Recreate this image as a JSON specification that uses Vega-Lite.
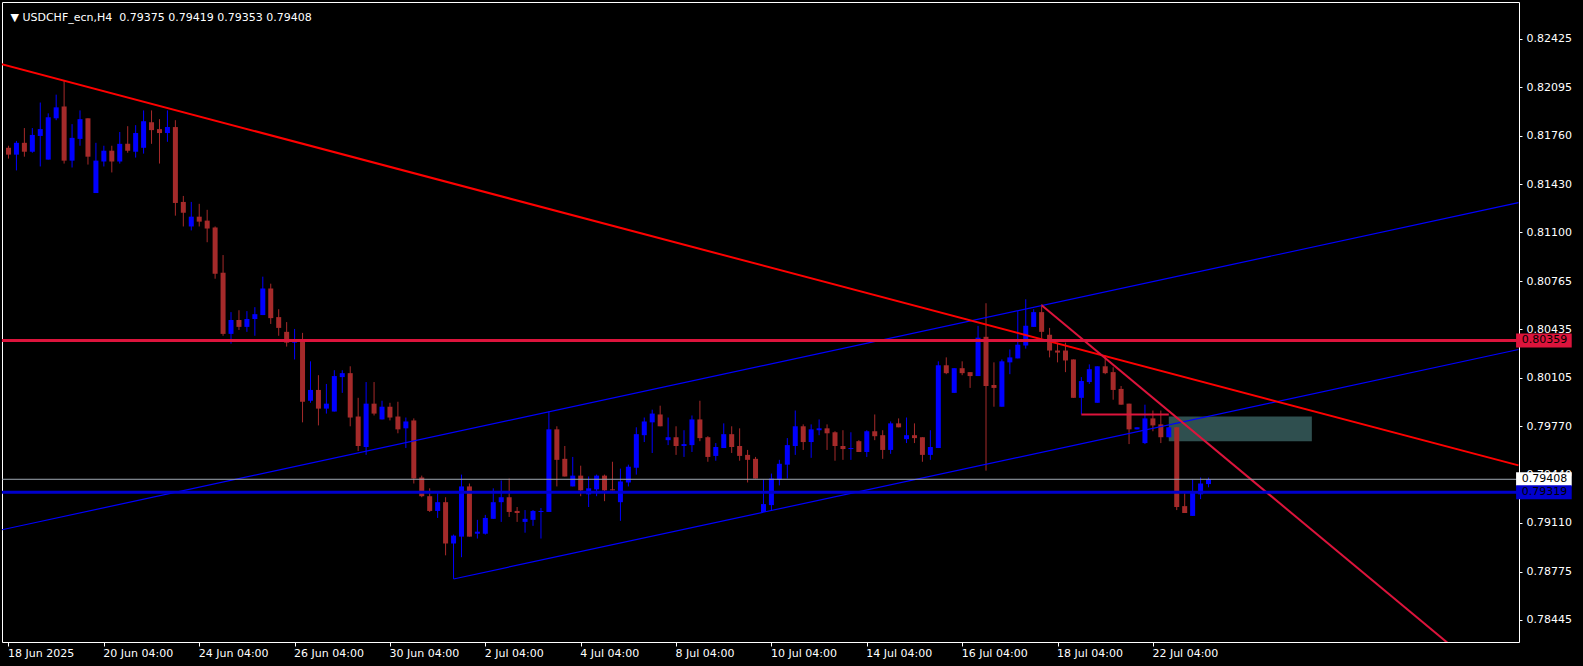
{
"$schema": "https://vega.github.io/schema/vega-lite/v6.json",
"width": 1517, "height": 640,
"autosize": {"type": "none"},
"padding": {"left": 2, "top": 2, "right": 64, "bottom": 24},
"background": "#000000",
"config": {"view": {"stroke": "#FFFFFF", "strokeWidth": 1, "fill": "#000000"}, "font": "DejaVu Sans"},
"datasets": {
"header": [
{"label": "▼ USDCHF_ecn,H4\u00a0 0.79375 0.79419 0.79353 0.79408"}
],
"candles": [
{"k":0,"o":0.81679,"h":0.81693,"l":0.81605,"c":0.81632},
{"k":1,"o":0.81632,"h":0.81726,"l":0.81524,"c":0.81713},
{"k":2,"o":0.81713,"h":0.81814,"l":0.81618,"c":0.81652},
{"k":3,"o":0.81652,"h":0.81814,"l":0.81645,"c":0.81767},
{"k":4,"o":0.81760,"h":0.81989,"l":0.81551,"c":0.81807},
{"k":5,"o":0.81598,"h":0.81915,"l":0.81598,"c":0.81888},
{"k":6,"o":0.81881,"h":0.82043,"l":0.81868,"c":0.81956},
{"k":7,"o":0.81962,"h":0.82138,"l":0.81571,"c":0.81591},
{"k":8,"o":0.81591,"h":0.81841,"l":0.81544,"c":0.81747},
{"k":9,"o":0.81740,"h":0.81935,"l":0.81693,"c":0.81875},
{"k":10,"o":0.81881,"h":0.81881,"l":0.81564,"c":0.81618},
{"k":11,"o":0.81369,"h":0.81713,"l":0.81369,"c":0.81591},
{"k":12,"o":0.81585,"h":0.81693,"l":0.81551,"c":0.81659},
{"k":13,"o":0.81659,"h":0.81693,"l":0.81510,"c":0.81585},
{"k":14,"o":0.81585,"h":0.81787,"l":0.81571,"c":0.81706},
{"k":15,"o":0.81706,"h":0.81827,"l":0.81645,"c":0.81659},
{"k":16,"o":0.81652,"h":0.81834,"l":0.81612,"c":0.81780},
{"k":17,"o":0.81679,"h":0.81935,"l":0.81639,"c":0.81861},
{"k":18,"o":0.81854,"h":0.81935,"l":0.81706,"c":0.81800},
{"k":19,"o":0.81807,"h":0.81875,"l":0.81571,"c":0.81780},
{"k":20,"o":0.81780,"h":0.81935,"l":0.81720,"c":0.81821},
{"k":21,"o":0.81821,"h":0.81868,"l":0.81214,"c":0.81301},
{"k":22,"o":0.81308,"h":0.81349,"l":0.81140,"c":0.81234},
{"k":23,"o":0.81140,"h":0.81308,"l":0.81113,"c":0.81207},
{"k":24,"o":0.81207,"h":0.81295,"l":0.81140,"c":0.81173},
{"k":25,"o":0.81180,"h":0.81254,"l":0.81032,"c":0.81126},
{"k":26,"o":0.81133,"h":0.81140,"l":0.80782,"c":0.80816},
{"k":27,"o":0.80823,"h":0.80944,"l":0.80391,"c":0.80404},
{"k":28,"o":0.80404,"h":0.80553,"l":0.80337,"c":0.80499},
{"k":29,"o":0.80499,"h":0.80566,"l":0.80431,"c":0.80452},
{"k":30,"o":0.80452,"h":0.80560,"l":0.80418,"c":0.80506},
{"k":31,"o":0.80506,"h":0.80587,"l":0.80391,"c":0.80539},
{"k":32,"o":0.80533,"h":0.80796,"l":0.80533,"c":0.80715},
{"k":33,"o":0.80715,"h":0.80748,"l":0.80472,"c":0.80512},
{"k":34,"o":0.80519,"h":0.80573,"l":0.80391,"c":0.80445},
{"k":35,"o":0.80418,"h":0.80485,"l":0.80317,"c":0.80344},
{"k":36,"o":0.80344,"h":0.80438,"l":0.80229,"c":0.80364},
{"k":37,"o":0.80357,"h":0.80411,"l":0.79798,"c":0.79939},
{"k":38,"o":0.79946,"h":0.80216,"l":0.79932,"c":0.80020},
{"k":39,"o":0.80020,"h":0.80121,"l":0.79777,"c":0.79892},
{"k":40,"o":0.79892,"h":0.80061,"l":0.79858,"c":0.79926},
{"k":41,"o":0.79872,"h":0.80155,"l":0.79872,"c":0.80115},
{"k":42,"o":0.80108,"h":0.80155,"l":0.80000,"c":0.80135},
{"k":43,"o":0.80135,"h":0.80182,"l":0.79771,"c":0.79831},
{"k":44,"o":0.79838,"h":0.79966,"l":0.79602,"c":0.79636},
{"k":45,"o":0.79629,"h":0.80074,"l":0.79575,"c":0.79926},
{"k":46,"o":0.79926,"h":0.80074,"l":0.79845,"c":0.79858},
{"k":47,"o":0.79818,"h":0.79946,"l":0.79818,"c":0.79905},
{"k":48,"o":0.79905,"h":0.79932,"l":0.79811,"c":0.79831},
{"k":49,"o":0.79838,"h":0.79939,"l":0.79723,"c":0.79750},
{"k":50,"o":0.79757,"h":0.79831,"l":0.79622,"c":0.79804},
{"k":51,"o":0.79811,"h":0.79825,"l":0.79379,"c":0.79413},
{"k":52,"o":0.79420,"h":0.79433,"l":0.79285,"c":0.79292},
{"k":53,"o":0.79292,"h":0.79346,"l":0.79184,"c":0.79191},
{"k":54,"o":0.79191,"h":0.79319,"l":0.79143,"c":0.79251},
{"k":55,"o":0.79251,"h":0.79285,"l":0.78887,"c":0.78968},
{"k":56,"o":0.78968,"h":0.79029,"l":0.78725,"c":0.79022},
{"k":57,"o":0.79015,"h":0.79440,"l":0.78874,"c":0.79359},
{"k":58,"o":0.79359,"h":0.79379,"l":0.79015,"c":0.79015},
{"k":59,"o":0.79035,"h":0.79130,"l":0.79002,"c":0.79049},
{"k":60,"o":0.79035,"h":0.79164,"l":0.79029,"c":0.79143},
{"k":61,"o":0.79137,"h":0.79346,"l":0.79137,"c":0.79251},
{"k":62,"o":0.79251,"h":0.79400,"l":0.79116,"c":0.79285},
{"k":63,"o":0.79285,"h":0.79413,"l":0.79150,"c":0.79184},
{"k":64,"o":0.79191,"h":0.79218,"l":0.79116,"c":0.79177},
{"k":65,"o":0.79116,"h":0.79197,"l":0.79042,"c":0.79137},
{"k":66,"o":0.79130,"h":0.79197,"l":0.79089,"c":0.79191},
{"k":67,"o":0.79184,"h":0.79211,"l":0.79002,"c":0.79191},
{"k":68,"o":0.79184,"h":0.79872,"l":0.79184,"c":0.79750},
{"k":69,"o":0.79750,"h":0.79771,"l":0.79359,"c":0.79541},
{"k":70,"o":0.79548,"h":0.79636,"l":0.79427,"c":0.79427},
{"k":71,"o":0.79359,"h":0.79561,"l":0.79359,"c":0.79433},
{"k":72,"o":0.79433,"h":0.79501,"l":0.79292,"c":0.79332},
{"k":73,"o":0.79305,"h":0.79427,"l":0.79218,"c":0.79346},
{"k":74,"o":0.79339,"h":0.79440,"l":0.79292,"c":0.79433},
{"k":75,"o":0.79433,"h":0.79440,"l":0.79258,"c":0.79332},
{"k":76,"o":0.79339,"h":0.79528,"l":0.79332,"c":0.79332},
{"k":77,"o":0.79251,"h":0.79481,"l":0.79123,"c":0.79393},
{"k":78,"o":0.79386,"h":0.79508,"l":0.79359,"c":0.79494},
{"k":79,"o":0.79487,"h":0.79764,"l":0.79440,"c":0.79717},
{"k":80,"o":0.79710,"h":0.79831,"l":0.79663,"c":0.79804},
{"k":81,"o":0.79798,"h":0.79885,"l":0.79588,"c":0.79858},
{"k":82,"o":0.79852,"h":0.79912,"l":0.79771,"c":0.79771},
{"k":83,"o":0.79676,"h":0.79831,"l":0.79642,"c":0.79696},
{"k":84,"o":0.79696,"h":0.79771,"l":0.79575,"c":0.79636},
{"k":85,"o":0.79636,"h":0.79744,"l":0.79561,"c":0.79649},
{"k":86,"o":0.79642,"h":0.79845,"l":0.79595,"c":0.79818},
{"k":87,"o":0.79818,"h":0.79946,"l":0.79669,"c":0.79690},
{"k":88,"o":0.79696,"h":0.79703,"l":0.79528,"c":0.79561},
{"k":89,"o":0.79568,"h":0.79656,"l":0.79535,"c":0.79629},
{"k":90,"o":0.79622,"h":0.79791,"l":0.79622,"c":0.79717},
{"k":91,"o":0.79717,"h":0.79771,"l":0.79588,"c":0.79629},
{"k":92,"o":0.79636,"h":0.79757,"l":0.79535,"c":0.79568},
{"k":93,"o":0.79575,"h":0.79609,"l":0.79386,"c":0.79541},
{"k":94,"o":0.79548,"h":0.79561,"l":0.79413,"c":0.79413},
{"k":95,"o":0.79184,"h":0.79406,"l":0.79184,"c":0.79238},
{"k":96,"o":0.79231,"h":0.79447,"l":0.79197,"c":0.79413},
{"k":97,"o":0.79406,"h":0.79541,"l":0.79366,"c":0.79514},
{"k":98,"o":0.79508,"h":0.79690,"l":0.79413,"c":0.79642},
{"k":99,"o":0.79636,"h":0.79879,"l":0.79575,"c":0.79771},
{"k":100,"o":0.79771,"h":0.79784,"l":0.79609,"c":0.79663},
{"k":101,"o":0.79663,"h":0.79784,"l":0.79555,"c":0.79750},
{"k":102,"o":0.79744,"h":0.79818,"l":0.79710,"c":0.79757},
{"k":103,"o":0.79757,"h":0.79784,"l":0.79609,"c":0.79723},
{"k":104,"o":0.79730,"h":0.79737,"l":0.79535,"c":0.79636},
{"k":105,"o":0.79636,"h":0.79744,"l":0.79541,"c":0.79615},
{"k":106,"o":0.79615,"h":0.79730,"l":0.79541,"c":0.79622},
{"k":107,"o":0.79669,"h":0.79676,"l":0.79595,"c":0.79595},
{"k":108,"o":0.79595,"h":0.79744,"l":0.79561,"c":0.79737},
{"k":109,"o":0.79737,"h":0.79852,"l":0.79676,"c":0.79703},
{"k":110,"o":0.79710,"h":0.79744,"l":0.79548,"c":0.79609},
{"k":111,"o":0.79609,"h":0.79804,"l":0.79582,"c":0.79791},
{"k":112,"o":0.79791,"h":0.79825,"l":0.79764,"c":0.79764},
{"k":113,"o":0.79683,"h":0.79831,"l":0.79656,"c":0.79710},
{"k":114,"o":0.79710,"h":0.79791,"l":0.79656,"c":0.79690},
{"k":115,"o":0.79696,"h":0.79696,"l":0.79528,"c":0.79575},
{"k":116,"o":0.79575,"h":0.79744,"l":0.79541,"c":0.79629},
{"k":117,"o":0.79622,"h":0.80216,"l":0.79622,"c":0.80189},
{"k":118,"o":0.80189,"h":0.80243,"l":0.80128,"c":0.80135},
{"k":119,"o":0.80000,"h":0.80169,"l":0.80000,"c":0.80169},
{"k":120,"o":0.80169,"h":0.80216,"l":0.80121,"c":0.80135},
{"k":121,"o":0.80142,"h":0.80142,"l":0.80034,"c":0.80115},
{"k":122,"o":0.80115,"h":0.80459,"l":0.80115,"c":0.80378},
{"k":123,"o":0.80384,"h":0.80614,"l":0.79467,"c":0.80047},
{"k":124,"o":0.80054,"h":0.80209,"l":0.79905,"c":0.80034},
{"k":125,"o":0.79905,"h":0.80229,"l":0.79905,"c":0.80216},
{"k":126,"o":0.80209,"h":0.80297,"l":0.80128,"c":0.80243},
{"k":127,"o":0.80236,"h":0.80560,"l":0.80236,"c":0.80330},
{"k":128,"o":0.80324,"h":0.80641,"l":0.80303,"c":0.80459},
{"k":129,"o":0.80452,"h":0.80573,"l":0.80452,"c":0.80553},
{"k":130,"o":0.80553,"h":0.80607,"l":0.80371,"c":0.80418},
{"k":131,"o":0.80398,"h":0.80445,"l":0.80243,"c":0.80290},
{"k":132,"o":0.80290,"h":0.80344,"l":0.80209,"c":0.80276},
{"k":133,"o":0.80290,"h":0.80344,"l":0.80142,"c":0.80222},
{"k":134,"o":0.80229,"h":0.80229,"l":0.79966,"c":0.79966},
{"k":135,"o":0.79966,"h":0.80108,"l":0.79852,"c":0.80081},
{"k":136,"o":0.80074,"h":0.80195,"l":0.80061,"c":0.80162},
{"k":137,"o":0.79932,"h":0.80182,"l":0.79932,"c":0.80182},
{"k":138,"o":0.80182,"h":0.80256,"l":0.80128,"c":0.80135},
{"k":139,"o":0.80142,"h":0.80175,"l":0.79953,"c":0.80020},
{"k":140,"o":0.80027,"h":0.80047,"l":0.79919,"c":0.79919},
{"k":141,"o":0.79926,"h":0.79926,"l":0.79649,"c":0.79750},
{"k":142,"o":0.79750,"h":0.79764,"l":0.79750,"c":0.79764},
{"k":143,"o":0.79656,"h":0.79919,"l":0.79649,"c":0.79825},
{"k":144,"o":0.79825,"h":0.79879,"l":0.79737,"c":0.79777},
{"k":145,"o":0.79784,"h":0.79879,"l":0.79656,"c":0.79696},
{"k":146,"o":0.79696,"h":0.79764,"l":0.79696,"c":0.79764},
{"k":147,"o":0.79764,"h":0.79764,"l":0.79197,"c":0.79218},
{"k":148,"o":0.79224,"h":0.79312,"l":0.79177,"c":0.79177},
{"k":149,"o":0.79157,"h":0.79406,"l":0.79157,"c":0.79319},
{"k":150,"o":0.79305,"h":0.79420,"l":0.79272,"c":0.79379},
{"k":151,"o":0.79375,"h":0.79419,"l":0.79353,"c":0.79408}
],
"levels": [
{"id":"res","p":0.80359},
{"id":"bid","p":0.79408},
{"id":"sup","p":0.79319}
],
"lines": [
{"id":"ch_up","k":-1,"p":0.79060},
{"id":"ch_up","k":190,"p":0.81303},
{"id":"ch_low","k":56,"p":0.78725},
{"id":"ch_low","k":190,"p":0.80297},
{"id":"red1","k":-1,"p":0.82254},
{"id":"red1","k":190,"p":0.79503},
{"id":"red2","k":130,"p":0.80600},
{"id":"red2","k":185,"p":0.78110},
{"id":"seg","k":135,"p":0.79852},
{"id":"seg","k":146,"p":0.79852}
],
"zones": [
{"k0":146,"k1":164,"p0":0.79669,"p1":0.79838}
]
},
"layer": [
{
"data": {"name": "zones"},
"mark": {"type": "rect", "color": "#2F4F4F"},
"encoding": {
"x": {"field": "k0", "type": "quantitative", "scale": {"domain": [-0.1875, 189.4375], "nice": false, "zero": false},
"axis": {"values": [0,12,24,36,48,60,72,84,96,108,120,132,144], "labelExpr": "['18 Jun 2025','20 Jun 04:00','24 Jun 04:00','26 Jun 04:00','30 Jun 04:00','2 Jul 04:00','4 Jul 04:00','8 Jul 04:00','10 Jul 04:00','14 Jul 04:00','16 Jul 04:00','18 Jul 04:00','22 Jul 04:00'][round(datum.value/12)]", "title": null, "grid": false, "domain": false, "ticks": true, "tickSize": 4, "tickColor": "#FFFFFF", "tickWidth": 1, "labelAlign": "left", "labelBaseline": "top", "labelPadding": 1, "labelOffset": -1, "labelColor": "#FFFFFF", "labelFont": "DejaVu Sans", "labelFontSize": 11, "labelOverlap": false, "labelFlush": false, "labelBound": false}},
"x2": {"field": "k1"},
"y": {"field": "p0", "type": "quantitative", "scale": {"domain": [0.783274, 0.826435], "nice": false, "zero": false},
"axis": {"orient": "right", "values": [0.82425,0.82095,0.81760,0.81430,0.81100,0.80765,0.80435,0.80105,0.79770,0.79440,0.79110,0.78775,0.78445], "format": ".5f", "title": null, "grid": false, "domain": false, "ticks": true, "tickSize": 3, "tickColor": "#FFFFFF", "tickWidth": 1, "labelPadding": 4, "labelBaseline": "middle", "labelColor": "#FFFFFF", "labelFont": "DejaVu Sans", "labelFontSize": 11, "labelOverlap": false, "labelFlush": false, "labelBound": false}},
"y2": {"field": "p1"}
}
},
{
"data": {"name": "candles"},
"mark": {"type": "rule", "strokeWidth": 1},
"encoding": {
"x": {"field": "k", "type": "quantitative"},
"y": {"field": "l", "type": "quantitative"},
"y2": {"field": "h"},
"color": {"condition": {"test": "datum.c >= datum.o", "value": "#0000FF"}, "value": "#A52A2A"}
}
},
{
"data": {"name": "candles"},
"mark": {"type": "bar", "size": 5, "orient": "vertical"},
"encoding": {
"x": {"field": "k", "type": "quantitative"},
"y": {"field": "o", "type": "quantitative"},
"y2": {"field": "c"},
"color": {"condition": {"test": "datum.c >= datum.o", "value": "#0000FF"}, "value": "#A52A2A"}
}
},
{
"data": {"name": "lines"},
"transform": [{"filter": "datum.id === 'ch_up' || datum.id === 'ch_low'"}],
"mark": {"type": "line", "clip": true, "strokeWidth": 1.2, "color": "#0000FF"},
"encoding": {
"x": {"field": "k", "type": "quantitative"},
"y": {"field": "p", "type": "quantitative"},
"detail": {"field": "id"}
}
},
{
"data": {"name": "lines"},
"transform": [{"filter": "datum.id === 'red1'"}],
"mark": {"type": "line", "clip": true, "strokeWidth": 2, "color": "#FF0000"},
"encoding": {
"x": {"field": "k", "type": "quantitative"},
"y": {"field": "p", "type": "quantitative"}
}
},
{
"data": {"name": "lines"},
"transform": [{"filter": "datum.id === 'red2' || datum.id === 'seg'"}],
"mark": {"type": "line", "clip": true, "strokeWidth": 2, "color": "#DC143C"},
"encoding": {
"x": {"field": "k", "type": "quantitative"},
"y": {"field": "p", "type": "quantitative"},
"detail": {"field": "id"}
}
},
{
"data": {"name": "levels"},
"mark": {"type": "rule"},
"encoding": {
"y": {"field": "p", "type": "quantitative"},
"color": {"condition": [{"test": "datum.id === 'res'", "value": "#DC143C"}, {"test": "datum.id === 'sup'", "value": "#0000CD"}], "value": "#A0AAB4"},
"strokeWidth": {"condition": {"test": "datum.id === 'bid'", "value": 1}, "value": 3}
}
},
{
"data": {"name": "levels"},
"mark": {"type": "bar", "orient": "horizontal", "size": 14},
"encoding": {
"x": {"datum": 189.7, "type": "quantitative"},
"x2": {"datum": 196.7},
"y": {"field": "p", "type": "quantitative"},
"color": {"condition": [{"test": "datum.id === 'res'", "value": "#DC143C"}, {"test": "datum.id === 'sup'", "value": "#0000CD"}], "value": "#FFFFFF"}
}
},
{
"data": {"name": "levels"},
"mark": {"type": "text", "align": "left", "baseline": "middle", "font": "DejaVu Sans", "fontSize": 11, "color": "#000000"},
"encoding": {
"x": {"datum": 190.4, "type": "quantitative"},
"y": {"field": "p", "type": "quantitative"},
"text": {"field": "p", "type": "quantitative", "format": ".5f"}
}
},
{
"data": {"name": "header"},
"mark": {"type": "text", "align": "left", "baseline": "alphabetic", "font": "DejaVu Sans", "fontSize": 11, "color": "#FFFFFF"},
"encoding": {
"x": {"datum": 0.25, "type": "quantitative"},
"y": {"datum": 0.825457, "type": "quantitative"},
"text": {"field": "label"}
}
}
]
}
